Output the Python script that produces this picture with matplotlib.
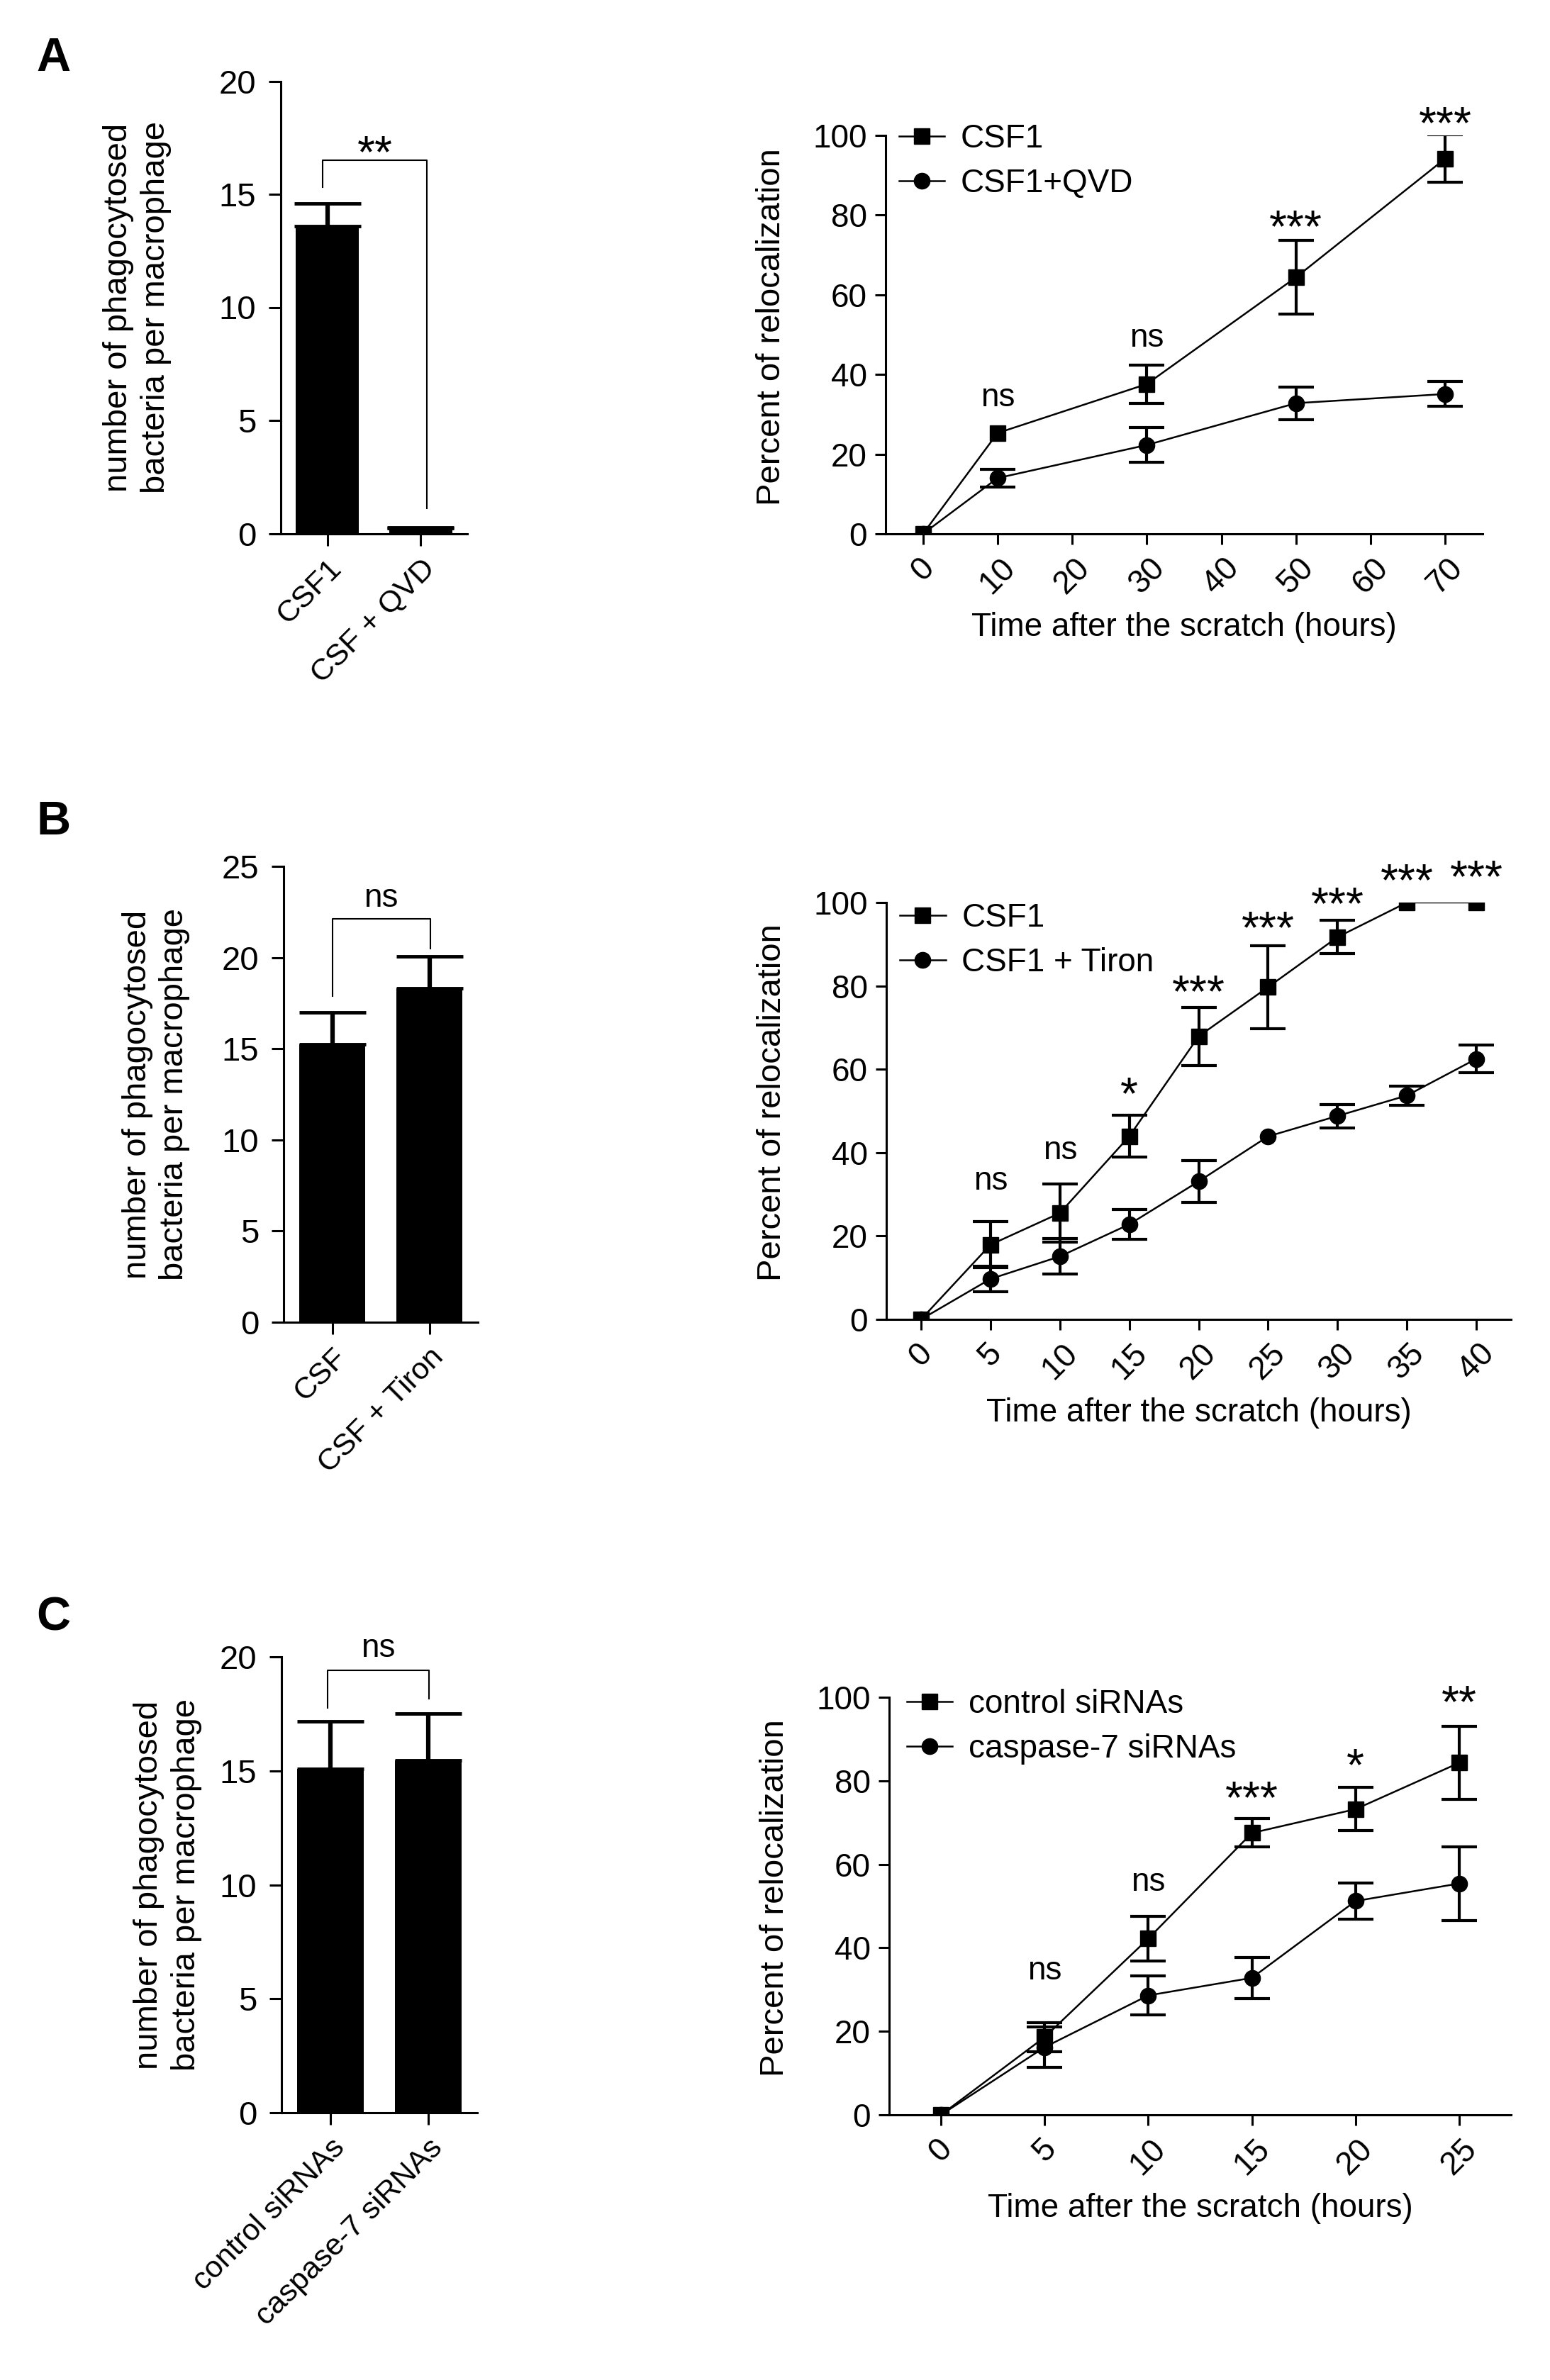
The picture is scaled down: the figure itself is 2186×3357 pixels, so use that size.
import matplotlib
matplotlib.use("Agg")
import matplotlib.pyplot as plt
import numpy as np

plt.rcParams['font.family'] = ['Liberation Sans', 'Arial', 'DejaVu Sans']

# ---- bar data (phagocytosis) ----
barA_labels = ["CSF1", "CSF + QVD"]
barA_vals = [13.6, 0.22]
barA_err = [1.0, 0.05]

barB_labels = ["CSF", "CSF + Tiron"]
barB_vals = [15.25, 18.3]
barB_err = [1.75, 1.75]

barC_labels = ["control siRNAs", "caspase-7 siRNAs"]
barC_vals = [15.1, 15.45]
barC_err = [2.07, 2.07]

# ---- relocalization time courses ----
timeA = [0, 10, 30, 50, 70]
csf1A = [0, 25.3, 37.6, 64.4, 94.2]
csf1A_err = [0, 0, 4.8, 9.2, 5.9]
qvdA = [0, 14.0, 22.3, 32.8, 35.1]
qvdA_err = [0, 2.2, 4.4, 4.1, 3.1]
sigA = ["", "ns", "ns", "***", "***"]
sigA_y = [0, 32.0, 47.0, 73.2, 99.2]

timeB = [0, 5, 10, 15, 20, 25, 30, 35, 40]
csf1B = [0, 17.9, 25.5, 43.9, 67.9, 79.7, 91.7, 100, 100]
csf1B_err = [0, 5.5, 7.0, 5.0, 7.0, 10.0, 4.0, 0, 0]
tironB = [0, 9.7, 15.1, 22.8, 33.1, 43.9, 48.8, 53.7, 62.5]
tironB_err = [0, 3.0, 4.3, 3.5, 5.0, 0, 2.8, 2.3, 3.4]
sigB = ["", "ns", "ns", "*", "***", "***", "***", "***", "***"]
sigB_y = [0, 31.1, 38.5, 50.5, 75.0, 90.2, 96.1, 101.7, 102.5]

timeC = [0, 5, 10, 15, 20, 25]
ctrlC = [0, 18.6, 42.2, 67.5, 73.2, 84.3]
ctrlC_err = [0, 3.5, 5.3, 3.4, 5.2, 8.8]
caspC = [0, 16.2, 28.6, 32.8, 51.2, 55.4]
caspC_err = [0, 4.9, 4.7, 4.9, 4.4, 8.8]
sigC = ["", "ns", "ns", "***", "*", "**"]
sigC_y = [0, 32.4, 53.7, 72.3, 80.1, 95.3]

W, H = 2186, 3357
fig = plt.figure(figsize=(W / 100, H / 100), dpi=100)


def box(x0, x1, ytop, ybot):
    return [x0 / W, 1 - ybot / H, (x1 - x0) / W, (ybot - ytop) / H]


def sig_text(ax, x, y, s):
    # asterisks are set larger than the rest of the text
    size = 33 if s == "ns" else 46
    ax.text(x, y, s, ha='center', va='baseline', fontsize=size)


def bar_panel(rect, labels, vals, errs, ymax, ystep, bracket, sig, sig_y, ypad):
    ax = fig.add_axes(rect)
    x = np.arange(len(vals))
    ax.bar(x, vals, width=0.68, color='black', zorder=2)
    ax.errorbar(x, vals, yerr=[np.zeros(len(errs)), errs], fmt='none', ecolor='black',
                elinewidth=4.5, capsize=34, capthick=3.5, zorder=3)
    xl, yl, xr, yr, yt = bracket
    ax.plot([xl, xl, xr, xr], [yl, yt, yt, yr], color='black', lw=1.5)
    sig_text(ax, (xl + xr) / 2, sig_y, sig)
    ax.set_xlim(-0.5, 1.5)
    ax.set_ylim(0, ymax)
    ax.set_yticks(np.arange(0, ymax + 0.1, ystep))
    ax.set_xticks(x)
    ax.set_xticklabels(labels, rotation=45, ha='right', rotation_mode='anchor', fontsize=31)
    for s in ['top', 'right']:
        ax.spines[s].set_visible(False)
    for s in ['left', 'bottom']:
        ax.spines[s].set_linewidth(2.2)
    ax.tick_params(axis='both', length=12, width=2.2)
    ax.tick_params(axis='y', pad=13, labelsize=34)
    ax.tick_params(axis='x', pad=9)
    ax.set_ylabel("number of phagocytosed\nbacteria per macrophage", fontsize=34,
                  linespacing=1.25, labelpad=ypad)
    return ax


def line_panel(rect, t, s1, e1, s2, e2, names, xlim, xstep, sig, sig_y, leg_anchor):
    ax = fig.add_axes(rect)
    t = np.array(t)
    for vals, errs, mk in [(s1, e1, 's'), (s2, e2, 'o')]:
        vals = np.array(vals)
        errs = np.array(errs)
        ax.plot(t, vals, '-', marker=mk, color='black', lw=1.8, ms=16, zorder=3)
        m = errs > 0
        ax.errorbar(t[m], vals[m], yerr=errs[m], fmt='none', ecolor='black',
                    elinewidth=3, capsize=18, capthick=3, zorder=4)
    for xi, lab, yy in zip(t, sig, sig_y):
        if lab:
            sig_text(ax, xi, yy, lab)
    h1 = plt.Line2D([], [], color='black', lw=1.8, marker='s', ms=16)
    h2 = plt.Line2D([], [], color='black', lw=1.8, marker='o', ms=16)
    ax.legend([h1, h2], names, loc='upper left', bbox_to_anchor=leg_anchor, frameon=False,
              fontsize=33, handlelength=1.4, handletextpad=0.5, borderpad=0,
              borderaxespad=0, labelspacing=0.42)
    ax.set_xlim(*xlim)
    ax.set_ylim(0, 100)
    ax.set_yticks(np.arange(0, 101, 20))
    ax.set_xticks(np.arange(0, t[-1] + 1, xstep))
    ax.tick_params(axis='x', labelrotation=45)
    for lab in ax.get_xticklabels():
        lab.set_ha('center')
    for s in ['top', 'right']:
        ax.spines[s].set_visible(False)
    for s in ['left', 'bottom']:
        ax.spines[s].set_linewidth(2.2)
    ax.tick_params(axis='both', length=11, width=2.2, labelsize=33, pad=8)
    ax.set_ylabel("Percent of relocalization", fontsize=34, labelpad=26)
    ax.yaxis.label.set_y(0.52)
    ax.set_xlabel("Time after the scratch (hours)", fontsize=33, labelpad=12)
    return ax


# Panel A
bar_panel(box(396, 659, 114.5, 752.5), barA_labels, barA_vals, barA_err, 20, 5,
          (-0.05, 15.3, 1.07, 1.1, 16.5), "**", 16.2, 48)
line_panel(box(1249, 2091, 191, 753), timeA, csf1A, csf1A_err, qvdA, qvdA_err,
           ["CSF1", "CSF1+QVD"], (-5, 75), 10, sigA, sigA_y, (0.022, 1.03))

# Panel B
bar_panel(box(400, 674, 1222, 1865), barB_labels, barB_vals, barB_err, 25, 5,
          (0, 17.9, 1.01, 20.5, 22.13), "ns", 22.8, 32)
line_panel(box(1250, 2131, 1273, 1861), timeB, csf1B, csf1B_err, tironB, tironB_err,
           ["CSF1", "CSF1 + Tiron"], (-2.5, 42.5), 5, sigB, sigB_y, (0.022, 1.0))

# Panel C
bar_panel(box(397, 673, 2337, 2980), barC_labels, barC_vals, barC_err, 20, 5,
          (-0.03, 17.76, 1.01, 18.15, 19.42), "ns", 20.0, 18)
line_panel(box(1254, 2131, 2394, 2983), timeC, ctrlC, ctrlC_err, caspC, caspC_err,
           ["control siRNAs", "caspase-7 siRNAs"], (-2.5, 27.5), 5, sigC, sigC_y, (0.028, 1.02))

for lab, ytop in [("A", 52), ("B", 1129), ("C", 2252)]:
    fig.text(51 / W, 1 - ytop / H, lab, fontsize=48, fontweight='bold', va='top', ha='left')

fig.savefig("out.png", dpi=100, facecolor='white')
